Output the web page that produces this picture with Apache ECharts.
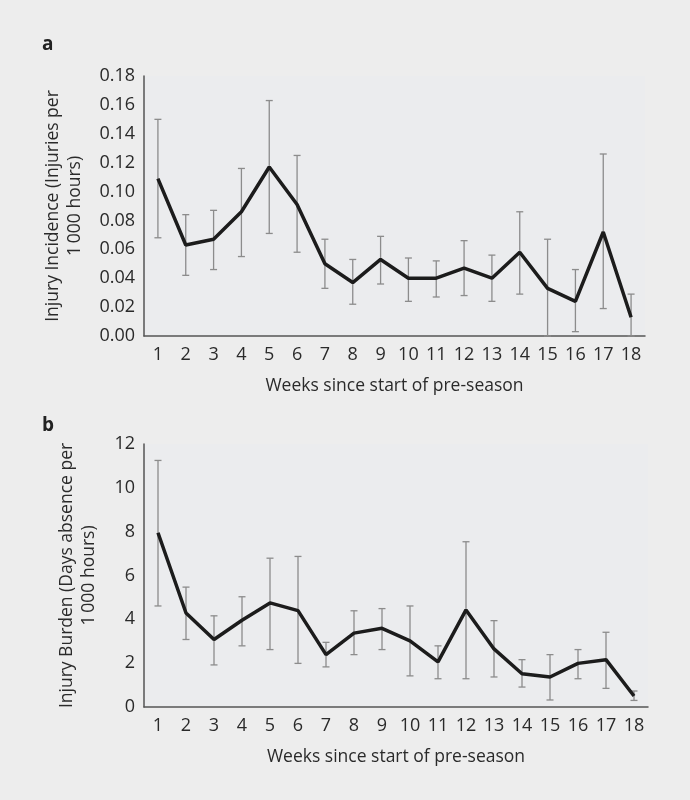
<!DOCTYPE html>
<html><head><meta charset="utf-8">
<script src="https://cdn.jsdelivr.net/npm/echarts@6/dist/echarts.min.js"></script>
<style>html,body{margin:0;padding:0;background:#ededed;}#c{width:690px;height:800px;}</style>
</head><body><div id="c"></div>
<script>
const weeks = ['1','2','3','4','5','6','7','8','9','10','11','12','13','14','15','16','17','18'];
const incidence     = [0.109,0.063,0.067,0.086,0.117,0.091,0.050,0.037,0.053,0.040,0.040,0.047,0.040,0.058,0.033,0.024,0.072,0.013];
const incidenceHigh = [0.150,0.084,0.087,0.116,0.163,0.125,0.067,0.053,0.069,0.054,0.052,0.066,0.056,0.086,0.067,0.046,0.126,0.029];
const incidenceLow  = [0.068,0.042,0.046,0.055,0.071,0.058,0.033,0.022,0.036,0.024,0.027,0.028,0.024,0.029,0.000,0.003,0.019,0.000];
const burden     = [7.95,4.29,3.08,3.96,4.75,4.40,2.39,3.37,3.59,3.02,2.06,4.43,2.65,1.52,1.37,1.99,2.16,0.50];
const burdenHigh = [11.25,5.47,4.16,5.03,6.79,6.87,2.95,4.39,4.49,4.61,2.79,7.54,3.94,2.16,2.39,2.62,3.41,0.73];
const burdenLow  = [4.61,3.08,1.92,2.79,2.62,1.99,1.83,2.39,2.62,1.42,1.29,1.29,1.37,0.91,0.32,1.29,0.85,0.30];
const incTicks = ['0.00','0.02','0.04','0.06','0.08','0.10','0.12','0.14','0.16','0.18'];

const FONT = '"Open Sans", "Noto Sans", sans-serif';
const TXT = '#2a2a2a';
const TICK = 18, NAME = 17.5;

function errData(low, high){ return weeks.map((w,i)=>[i, low[i], high[i]]); }
function errRender(params, api){
  const lo = api.coord([api.value(0), api.value(1)]);
  const hi = api.coord([api.value(0), api.value(2)]);
  const hw = 3.5;
  const st = {stroke:'#8c8c8c', lineWidth:1.3};
  return {type:'group', children:[
    {type:'line', shape:{x1:hi[0],y1:hi[1],x2:lo[0],y2:lo[1]}, style:st},
    {type:'line', shape:{x1:hi[0]-hw,y1:hi[1],x2:hi[0]+hw,y2:hi[1]}, style:st},
    {type:'line', shape:{x1:lo[0]-hw,y1:lo[1],x2:lo[0]+hw,y2:lo[1]}, style:st}
  ]};
}
function xAxis(gi){
  return {type:'category', gridIndex:gi, data:weeks, boundaryGap:true,
    axisLine:{lineStyle:{color:'#555', width:1.5}}, axisTick:{show:false},
    axisLabel:{color:TXT, fontSize:TICK, fontFamily:FONT, margin:10},
    name:'Weeks since start of pre-season', nameLocation:'middle', nameGap:41,
    nameTextStyle:{color:TXT, fontSize:NAME, fontFamily:FONT}};
}
const chart = echarts.init(document.getElementById('c'), null, {renderer:'canvas'});
chart.setOption({
  backgroundColor:'#ededed',
  animation:false,
  grid:[
    {left:144, top:76, width:501, height:260, show:true, backgroundColor:'#ebecee', borderWidth:0},
    {left:144, top:444, width:504, height:263, show:true, backgroundColor:'#ebecee', borderWidth:0}
  ],
  xAxis:[xAxis(0), xAxis(1)],
  yAxis:[
    {type:'value', gridIndex:0, min:0, max:0.18, interval:0.02,
     axisLine:{show:true, lineStyle:{color:'#555', width:1.5}}, axisTick:{show:false}, splitLine:{show:false},
     axisLabel:{color:TXT, fontSize:TICK, fontFamily:FONT, margin:9, formatter:(v)=>incTicks[Math.round(v/0.02)]},
     name:'Injury Incidence (Injuries per\n1\u2009000 hours)', nameLocation:'middle', nameRotate:90, nameGap:58,
     nameTextStyle:{color:TXT, fontSize:NAME, fontFamily:FONT, lineHeight:22}},
    {type:'value', gridIndex:1, min:0, max:12, interval:2,
     axisLine:{show:true, lineStyle:{color:'#555', width:1.5}}, axisTick:{show:false}, splitLine:{show:false},
     axisLabel:{color:TXT, fontSize:TICK, fontFamily:FONT, margin:9},
     name:'Injury Burden (Days absence per\n1\u2009000 hours)', nameLocation:'middle', nameRotate:90, nameGap:44,
     nameTextStyle:{color:TXT, fontSize:NAME, fontFamily:FONT, lineHeight:22}}
  ],
  graphic:[
    {type:'text', left:42, top:35, style:{text:'a', font:'bold 19px '+FONT, fill:'#222'}},
    {type:'text', left:42, top:416, style:{text:'b', font:'bold 19px '+FONT, fill:'#222'}}
  ],
  series:[
    {type:'custom', xAxisIndex:0, yAxisIndex:0, data:errData(incidenceLow, incidenceHigh), renderItem:errRender, z:1},
    {type:'line', xAxisIndex:0, yAxisIndex:0, data:incidence, symbol:'none', lineStyle:{color:'#1c1c1c', width:3.5}, z:2},
    {type:'custom', xAxisIndex:1, yAxisIndex:1, data:errData(burdenLow, burdenHigh), renderItem:errRender, z:1},
    {type:'line', xAxisIndex:1, yAxisIndex:1, data:burden, symbol:'none', lineStyle:{color:'#1c1c1c', width:3.5}, z:2}
  ]
});
</script></body></html>
